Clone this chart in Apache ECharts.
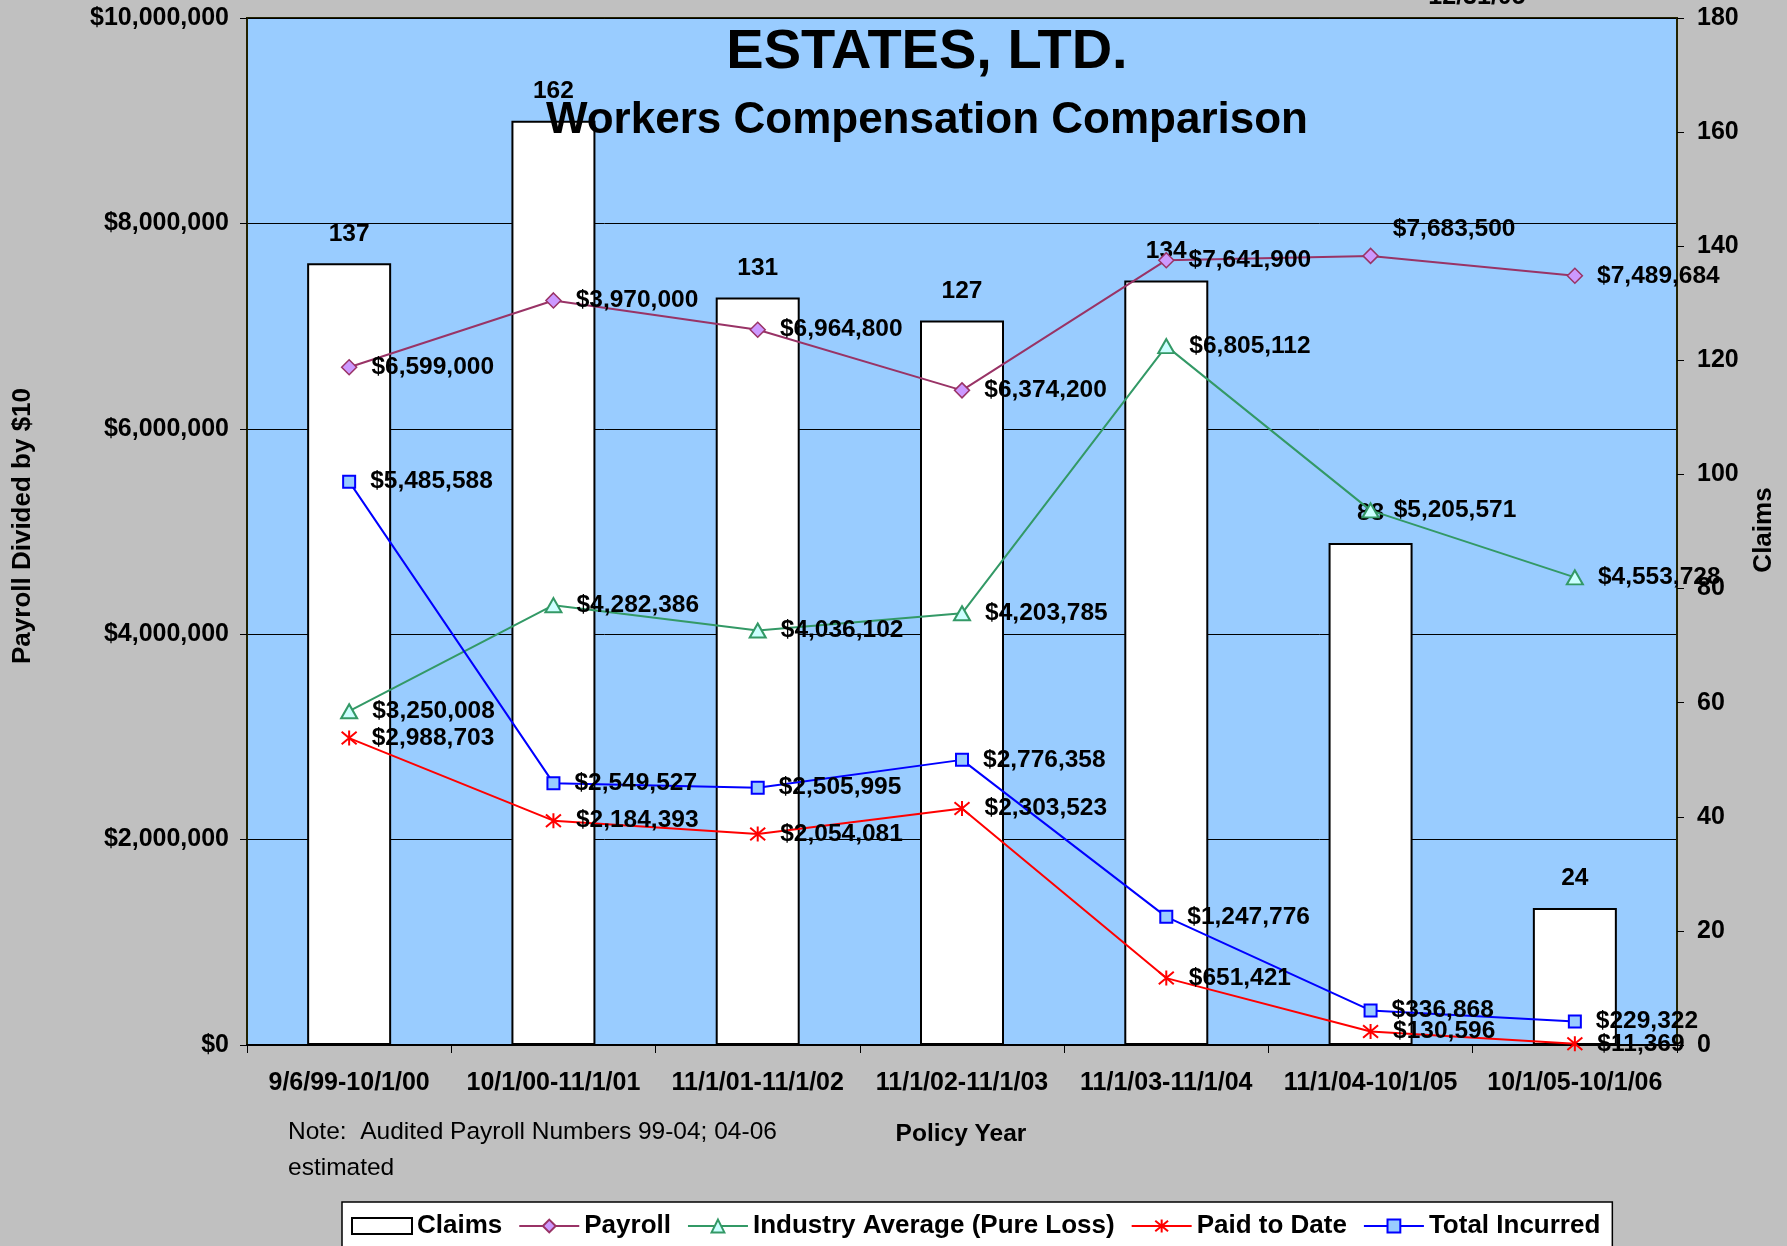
<!DOCTYPE html>
<html>
<head>
<meta charset="utf-8">
<script src="https://cdn.jsdelivr.net/npm/echarts@6/dist/echarts.min.js"></script>
<style>html,body{margin:0;padding:0;background:#C0C0C0;}#c{width:1787px;height:1246px;}</style>
</head>
<body>
<div id="c"></div>
<script>
const categories = ['9/6/99-10/1/00','10/1/00-11/1/01','11/1/01-11/1/02','11/1/02-11/1/03','11/1/03-11/1/04','11/1/04-10/1/05','10/1/05-10/1/06'];
const claims = [137, 162, 131, 127, 134, 88, 24];
const payroll = [6599000, 7250000, 6964800, 6374200, 7641900, 7683500, 7489684];
const payrollLabels = ['$6,599,000','$3,970,000','$6,964,800','$6,374,200','$7,641,900','$7,683,500','$7,489,684'];
const industryAvg = [3250008, 4282386, 4036102, 4203785, 6805112, 5205571, 4553728];
const paidToDate = [2988703, 2184393, 2054081, 2303523, 651421, 130596, 11369];
const totalIncurred = [5485588, 2549527, 2505995, 2776358, 1247776, 336868, 229322];
const leftAxis = {min: 0, max: 10000000, interval: 2000000};
const rightAxis = {min: 0, max: 180, interval: 20};

const FONT = '"Liberation Sans", Arial, sans-serif';
const money = v => '$' + Math.round(v).toLocaleString('en-US');
const lbl = {show: true, position: 'right', distance: 14, color: '#000', fontFamily: FONT, fontWeight: 'bold', fontSize: 24.5};

const chart = echarts.init(document.getElementById('c'));
chart.setOption({
  backgroundColor: '#C0C0C0',
  animation: false,
  textStyle: {fontFamily: FONT},
  grid: {left: 247, right: 110, top: 18, bottom: 201, show: true, backgroundColor: '#99CCFF', borderColor: '#222200', borderWidth: 2, containLabel: false},
  legend: {
    left: 342, top: 1202,
    backgroundColor: '#FFFFFF', borderColor: '#000', borderWidth: 1.5,
    padding: [11, 12, 14, 9],
    itemWidth: 60, itemHeight: 16, itemGap: 16,
    textStyle: {fontFamily: FONT, fontWeight: 'bold', fontSize: 26, color: '#000'},
    data: [{name: 'Claims', icon: 'rect'}, 'Payroll', 'Industry Average (Pure Loss)', 'Paid to Date', 'Total Incurred']
  },
  xAxis: {
    type: 'category', data: categories, boundaryGap: true,
    axisLine: {show: true, lineStyle: {color: '#000', width: 2}},
    axisTick: {show: true, length: 8, inside: false, lineStyle: {color: '#000'}},
    axisLabel: {margin: 26, color: '#000', fontFamily: FONT, fontWeight: 'bold', fontSize: 25, interval: 0},
    splitLine: {show: false}
  },
  yAxis: [{
    type: 'value', min: leftAxis.min, max: leftAxis.max, interval: leftAxis.interval, position: 'left',
    axisLine: {show: true, lineStyle: {color: '#222200', width: 2}},
    axisTick: {show: true, length: 7, lineStyle: {color: '#000'}},
    axisLabel: {margin: 18, color: '#000', fontFamily: FONT, fontWeight: 'bold', fontSize: 25, formatter: money},
    splitLine: {show: true, lineStyle: {color: '#000', width: 1}}
  }, {
    type: 'value', min: rightAxis.min, max: rightAxis.max, interval: rightAxis.interval, position: 'right',
    axisLine: {show: true, lineStyle: {color: '#222200', width: 2}},
    axisTick: {show: true, length: 7, lineStyle: {color: '#000'}},
    axisLabel: {margin: 20, color: '#000', fontFamily: FONT, fontWeight: 'bold', fontSize: 25},
    splitLine: {show: false}
  }],
  series: [{
    name: 'Claims', type: 'bar', yAxisIndex: 1, data: claims, barWidth: 84, z: 2,
    itemStyle: {color: '#FFFFFF', borderColor: '#000', borderWidth: 2},
    label: {show: true, position: 'top', distance: 17, color: '#000', fontFamily: FONT, fontWeight: 'bold', fontSize: 24.5}
  }, {
    name: 'Payroll', type: 'line', yAxisIndex: 0, z: 5,
    data: payroll.map((v, i) => i === 5 ? {value: v, label: {offset: [0, -27]}} : v),
    symbol: 'diamond', symbolSize: 15, showAllSymbol: true,
    lineStyle: {color: '#993366', width: 2},
    itemStyle: {color: '#CC99FF', borderColor: '#993366', borderWidth: 1.5},
    label: Object.assign({}, lbl, {formatter: p => payrollLabels[p.dataIndex]})
  }, {
    name: 'Industry Average (Pure Loss)', type: 'line', yAxisIndex: 0, z: 5, data: industryAvg,
    symbol: 'triangle', symbolSize: [16, 14],
    lineStyle: {color: '#339966', width: 2},
    itemStyle: {color: '#CCFFFF', borderColor: '#339966', borderWidth: 2},
    label: Object.assign({}, lbl, {formatter: p => money(p.value)})
  }, {
    name: 'Paid to Date', type: 'line', yAxisIndex: 0, z: 5, data: paidToDate,
    symbol: 'path://M0,0L20,20M20,0L0,20M10,-2L10,22', symbolSize: 15,
    lineStyle: {color: '#FF0000', width: 2},
    itemStyle: {color: '#FF0000', borderColor: '#FF0000', borderWidth: 2},
    label: Object.assign({}, lbl, {formatter: p => money(p.value)})
  }, {
    name: 'Total Incurred', type: 'line', yAxisIndex: 0, z: 5, data: totalIncurred,
    symbol: 'rect', symbolSize: 12,
    lineStyle: {color: '#0000FF', width: 2},
    itemStyle: {color: '#99CCFF', borderColor: '#0000FF', borderWidth: 2},
    label: Object.assign({}, lbl, {formatter: p => money(p.value)})
  }],
  graphic: [
    {type: 'text', z: 100, x: 927, y: 53, style: {text: 'ESTATES, LTD.', font: 'bold 56px ' + FONT, fill: '#000', textAlign: 'center', textVerticalAlign: 'middle'}},
    {type: 'text', z: 100, x: 927, y: 121, style: {text: 'Workers Compensation Comparison', font: 'bold 44px ' + FONT, fill: '#000', textAlign: 'center', textVerticalAlign: 'middle'}},
    {type: 'text', z: 100, x: 1477, y: 10, style: {text: '12/31/05', font: 'bold 25px ' + FONT, fill: '#000', textAlign: 'center', textVerticalAlign: 'bottom'}},
    {type: 'text', z: 100, x: 23, y: 664, rotation: Math.PI / 2, style: {text: 'Payroll Divided by $10', font: 'bold 26px ' + FONT, fill: '#000', textAlign: 'left', textVerticalAlign: 'middle'}},
    {type: 'text', z: 100, x: 1764, y: 530, rotation: Math.PI / 2, style: {text: 'Claims', font: 'bold 26px ' + FONT, fill: '#000', textAlign: 'center', textVerticalAlign: 'middle'}},
    {type: 'text', z: 100, x: 961, y: 1134, style: {text: 'Policy Year', font: 'bold 24.5px ' + FONT, fill: '#000', textAlign: 'center', textVerticalAlign: 'middle'}},
    {type: 'text', z: 100, x: 288, y: 1132, style: {text: 'Note:  Audited Payroll Numbers 99-04; 04-06', font: '24.5px ' + FONT, fill: '#000', textAlign: 'left', textVerticalAlign: 'middle'}},
    {type: 'text', z: 100, x: 288, y: 1168, style: {text: 'estimated', font: '24.5px ' + FONT, fill: '#000', textAlign: 'left', textVerticalAlign: 'middle'}}
  ]
});
</script>
</body>
</html>
